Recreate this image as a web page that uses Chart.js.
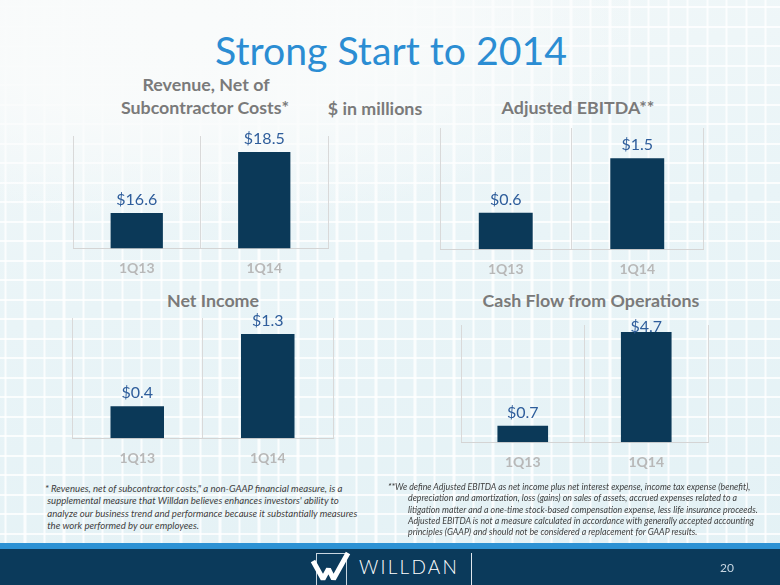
<!DOCTYPE html>
<html>
<head>
<meta charset="utf-8">
<script src="https://cdn.jsdelivr.net/npm/chart.js@4.4.1/dist/chart.umd.min.js"></script>
<style>
  html, body { margin: 0; padding: 0; }
  body {
    width: 780px; height: 585px; position: relative; overflow: hidden;
    font-family: Lato, sans-serif;
    background:
      radial-gradient(ellipse 460px 200px at 190px 25px, rgba(249,251,251,1) 0%, rgba(249,251,251,.92) 45%, rgba(249,251,251,0) 100%),
      repeating-linear-gradient(90deg, rgba(255,255,255,.8) 0 2px, transparent 2px 19.5px),
      repeating-linear-gradient(180deg, rgba(255,255,255,.8) 0 2px, transparent 2px 19.5px),
      linear-gradient(170deg, #f3f8f9 0%, #e9f4f7 45%, #e3f1f5 100%);
    background-position: 0 0, 4.5px 0, 0 6px, 0 0;
  }
  .txt { position: absolute; white-space: nowrap; line-height: 1; }
  .title { color: #2b8dd3; font-size: 40px; }
  .ctitle { color: #7a7a7a; font-weight: bold; font-size: 16px; }
  .note { position: absolute; color: #404040; font-style: italic; white-space: nowrap; }
  .note span { display: inline-block; }
  canvas { position: absolute; }
  .stripe { position: absolute; left: 0; top: 543px; width: 780px; height: 6px; background: #2d92d4; }
  .footer { position: absolute; left: 0; top: 549px; width: 780px; height: 36px; background: #0b3a5b; }
  .brand { color: #fff; font-weight: 300; font-size: 19px; }
  .page { color: #c8d6e2; font-size: 12px; }
  .vline { position: absolute; left: 471px; top: 553px; width: 1px; height: 32px; background: #dfe7ee; }
</style>
</head>
<body>

<span class="txt title" id="title">Strong Start to 2014</span>

<span class="txt ctitle" id="t1a">Revenue, Net of</span>
<span class="txt ctitle" id="t1b">Subcontractor Costs*</span>
<span class="txt ctitle" id="units">$ in millions</span>
<span class="txt ctitle" id="t2">Adjusted EBITDA**</span>
<span class="txt ctitle" id="t3">Net Income</span>
<span class="txt ctitle" id="t4">Cash Flow from Operations</span>

<canvas id="revenueChart"></canvas>
<canvas id="ebitdaChart"></canvas>
<canvas id="netIncomeChart"></canvas>
<canvas id="cashFlowChart"></canvas>

<div class="note" id="noteLeft">
  <span id="noteLeft1">* Revenues, net of subcontractor costs," a non-GAAP financial measure, is a</span><br>
  &nbsp;supplemental measure that Willdan believes enhances investors' ability to<br>
  &nbsp;analyze our business trend and performance because it substantially measures<br>
  &nbsp;the work performed by our employees.
</div>

<div class="note" id="noteRight" style="padding-left: 10px; text-indent: -10px;">
  <span id="noteRight1">**We define Adjusted EBITDA as net income plus net interest expense, income tax expense (benefit),</span><br>
  depreciation and amortization, loss (gains) on sales of assets, accrued expenses related to a<br>
  litigation matter and a one-time stock-based compensation expense, less life insurance proceeds.<br>
  Adjusted EBITDA is not a measure calculated in accordance with generally accepted accounting<br>
  principles (GAAP) and should not be considered a replacement for GAAP results.
</div>

<div class="stripe"></div>
<div class="footer"></div>
<svg style="position:absolute; left:308px; top:551px" width="44" height="34">
  <rect x="8.5" y="2.5" width="30" height="40" fill="none" stroke="#c9d6e0" stroke-width="1"/>
  <path d="M5 10 L15 28 L20.5 18 L25.5 28 L40 2" fill="none" stroke="#fff" stroke-width="5" stroke-linejoin="bevel"/>
</svg>
<span class="txt brand" id="brand">WILLDAN</span>
<div class="vline"></div>
<span class="txt page" id="page">20</span>

<script>
const categories = ['1Q13', '1Q14'];
const revenue = [16.6, 18.5];
const adjustedEbitda = [0.6, 1.5];
const netIncome = [0.4, 1.3];
const cashFlow = [0.7, 4.7];

// value axis ranges (axes are hidden in the slide)
const revenueRange = [15.5, 19];
const ebitdaRange = [0, 2];
const netIncomeRange = [0, 1.5];
const cashFlowRange = [0, 5];

Chart.defaults.font.family = 'Lato';

// Lato: baseline sits 0.887em below the top of a line-height:1 box
function place(el, cx, baseline) {
  const f = parseFloat(el.style.fontSize || getComputedStyle(el).fontSize);
  const w = el.getBoundingClientRect().width;
  el.style.left = (cx - w / 2) + 'px';
  el.style.top = (baseline - 0.887 * f) + 'px';
}

function fit(el, width) {
  const f = parseFloat(getComputedStyle(el).fontSize);
  const s = f * width / el.getBoundingClientRect().width;
  el.style.fontSize = s + 'px';
  return s;
}

const title = document.getElementById('title');
fit(title, 352);
place(title, 391, 65);

const ctSize = fit(document.getElementById('t4'), 217);
for (const id of ['t1a', 't1b', 'units', 't2', 't3']) {
  document.getElementById(id).style.fontSize = ctSize + 'px';
}
place(document.getElementById('t1a'), 206, 92);
place(document.getElementById('t1b'), 205, 115);
place(document.getElementById('units'), 375, 116);
place(document.getElementById('t2'), 578, 115);
place(document.getElementById('t3'), 213, 308);
place(document.getElementById('t4'), 591, 308);

function placeNote(id, firstId, x, width, baseline, lineH) {
  const el = document.getElementById(id);
  el.style.fontSize = '10px';
  const f = 10 * width / document.getElementById(firstId).getBoundingClientRect().width;
  el.style.fontSize = f + 'px';
  el.style.lineHeight = lineH + 'px';
  el.style.left = x + 'px';
  el.style.top = (baseline - (lineH - 1.2 * f) / 2 - 0.987 * f) + 'px';
}
placeNote('noteLeft', 'noteLeft1', 45, 298, 493, 12.2);
placeNote('noteRight', 'noteRight1', 398, 354, 490, 11.3);

const brand = document.getElementById('brand');
brand.style.letterSpacing = '0px';
brand.style.letterSpacing = ((100 - brand.getBoundingClientRect().width) / 7) + 'px';
place(brand, 409, 574);
place(document.getElementById('page'), 727, 573);

const barValues = {
  id: 'barValues',
  afterDatasetsDraw(chart) {
    const ctx = chart.ctx;
    const top = chart.chartArea.top;
    const data = chart.data.datasets[0].data;
    ctx.save();
    ctx.fillStyle = '#2e5d9b';
    ctx.font = '16px Lato';
    ctx.textAlign = 'center';
    ctx.textBaseline = 'alphabetic';
    chart.getDatasetMeta(0).data.forEach((bar, i) => {
      const y = Math.max(bar.y - 8, top + 7);
      ctx.fillText('$' + data[i].toFixed(1), bar.x, y);
    });
    ctx.restore();
  }
};

function makeChart(id, values, range, box) {
  const canvas = document.getElementById(id);
  canvas.style.left = (box.x - 10) + 'px';
  canvas.style.top = (box.y - 24) + 'px';
  canvas.width = box.w + 20;
  canvas.height = box.h + 24 + 41;
  return new Chart(canvas, {
    type: 'bar',
    plugins: [barValues],
    data: {
      labels: categories,
      datasets: [{
        data: values,
        backgroundColor: '#0b3958',
        barPercentage: 0.41,
        categoryPercentage: 1,
      }],
    },
    options: {
      responsive: false,
      animation: false,
      layout: { padding: { left: 10, right: 10, top: 24, bottom: 0 } },
      plugins: { legend: { display: false }, tooltip: { enabled: false } },
      scales: {
        x: {
          grid: { color: '#d9d9d9', drawTicks: false, offset: true },
          border: { color: '#d4d4d4' },
          ticks: { padding: 12, color: '#b8b8b8', font: { size: 14, weight: 'bold' } },
        },
        y: { display: false, min: range[0], max: range[1] },
      },
    },
  });
}

makeChart('revenueChart', revenue, revenueRange, { x: 73, y: 136, w: 255, h: 112 });
makeChart('ebitdaChart', adjustedEbitda, ebitdaRange, { x: 440, y: 128, w: 263, h: 121 });
makeChart('netIncomeChart', netIncome, netIncomeRange, { x: 72, y: 318, w: 261, h: 120 });
makeChart('cashFlowChart', cashFlow, cashFlowRange, { x: 461, y: 325, w: 247, h: 117 });
</script>
</body>
</html>
